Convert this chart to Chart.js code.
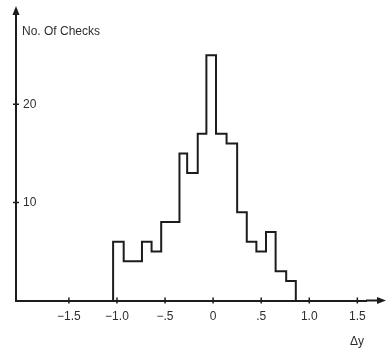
<!DOCTYPE html>
<html>
<head>
<meta charset="utf-8">
<script src="https://cdn.jsdelivr.net/npm/chart.js@4/dist/chart.umd.min.js"></script>
<style>
  html, body { margin: 0; padding: 0; background: #fff; }
  #wrap { width: 390px; height: 352px; }
</style>
</head>
<body>
<div id="wrap"><canvas id="myChart" width="390" height="352"></canvas></div>
<script>
// bin edges (Δy) and number of checks per bin
const binEdges = [-1.04, -0.93, -0.83, -0.74, -0.64, -0.54, -0.44, -0.35, -0.27, -0.16,
                  -0.07, 0.03, 0.14, 0.25, 0.35, 0.45, 0.55, 0.65, 0.76, 0.86];
const binCounts = [6, 4, 4, 6, 5, 8, 8, 15, 13, 17, 25, 17, 16, 9, 6, 5, 7, 3, 2];
const xTicks = [-1.5, -1.0, -0.5, 0, 0.5, 1.0, 1.5];
const xTickLabels = ["\u22121.5", "\u22121.0", "\u2212.5", "0", ".5", "1.0", "1.5"];
const yTicks = [10, 20];
const yTitle = "No. Of Checks";
const xTitle = "\u0394y";

const ink = "#1c1c1c";
const textInk = "#2e2e2e";
const fontFamily = "'Liberation Sans', Arial, Helvetica, sans-serif";

// step outline: up from zero at the first edge, across each bin, down at the last edge
const points = [{ x: binEdges[0], y: 0 }];
binCounts.forEach((c, i) => points.push({ x: binEdges[i], y: c }));
points.push({ x: binEdges[binEdges.length - 1], y: 0 });

const axisDecor = {
  id: "axisDecor",
  afterDraw(chart) {
    const { ctx, chartArea: a, scales: { x, y } } = chart;
    ctx.save();
    ctx.strokeStyle = ink;
    ctx.fillStyle = ink;
    ctx.lineWidth = 2;

    // axis extensions up to the arrow heads
    ctx.beginPath();
    ctx.moveTo(a.left, a.top);
    ctx.lineTo(a.left, a.top - 6);
    ctx.moveTo(a.right, a.bottom);
    ctx.lineTo(a.right + 12, a.bottom);
    ctx.stroke();

    ctx.beginPath();
    ctx.moveTo(a.left, a.top - 10);
    ctx.lineTo(a.left - 3.5, a.top - 1);
    ctx.lineTo(a.left + 3.5, a.top - 1);
    ctx.closePath();
    ctx.fill();

    ctx.beginPath();
    ctx.moveTo(a.right + 20, a.bottom);
    ctx.lineTo(a.right + 11, a.bottom - 3.5);
    ctx.lineTo(a.right + 11, a.bottom + 3.5);
    ctx.closePath();
    ctx.fill();

    // small crossing tick marks
    ctx.lineWidth = 1.5;
    ctx.beginPath();
    x.ticks.forEach(t => {
      const px = x.getPixelForValue(t.value);
      ctx.moveTo(px, a.bottom - 3);
      ctx.lineTo(px, a.bottom + 3);
    });
    y.ticks.forEach(t => {
      const py = y.getPixelForValue(t.value);
      ctx.moveTo(a.left - 3, py);
      ctx.lineTo(a.left + 3, py);
    });
    ctx.stroke();

    // axis titles
    ctx.fillStyle = textInk;
    ctx.font = "12px " + fontFamily;
    ctx.textBaseline = "middle";
    ctx.textAlign = "left";
    ctx.fillText(yTitle, a.left + 6, 32);
    ctx.fillText(xTitle, 350, 342);
    ctx.restore();
  }
};

const ctx = document.getElementById("myChart").getContext("2d");

const chart = new Chart(ctx, {
  type: "scatter",
  data: {
    datasets: [
      {
        data: points,
        showLine: true,
        stepped: true,
        fill: false,
        borderColor: ink,
        borderWidth: 2,
        pointRadius: 0,
        pointHoverRadius: 0
      }
    ]
  },
  options: {
    responsive: false,
    animation: false,
    events: [],
    layout: { padding: { top: 16, left: 2, right: 24, bottom: 19 } },
    plugins: {
      legend: { display: false },
      tooltip: { enabled: false }
    },
    scales: {
      x: {
        type: "linear",
        min: -2.05,
        max: 1.59,
        afterBuildTicks: s => { s.ticks = xTicks.map(v => ({ value: v })); },
        grid: { display: false, drawTicks: false },
        border: { display: true, color: ink, width: 2 },
        ticks: {
          padding: 9,
          color: textInk,
          font: { family: fontFamily, size: 12 },
          maxRotation: 0,
          autoSkip: false,
          callback: (v, i) => xTickLabels[i]
        }
      },
      y: {
        type: "linear",
        min: 0,
        max: 29,
        afterBuildTicks: s => { s.ticks = yTicks.map(v => ({ value: v })); },
        grid: { display: false, drawTicks: false },
        border: { display: true, color: ink, width: 2 },
        ticks: {
          mirror: true,
          padding: 7,
          color: textInk,
          font: { family: fontFamily, size: 12 }
        }
      }
    }
  },
  plugins: [axisDecor]
});
</script>
</body>
</html>
